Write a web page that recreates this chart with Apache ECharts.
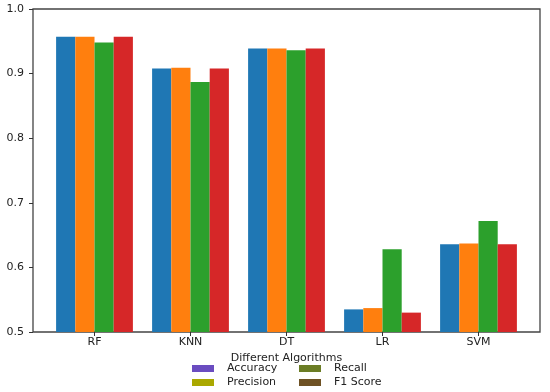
<!DOCTYPE html>
<html><head><meta charset="utf-8">
<script src="https://cdn.jsdelivr.net/npm/echarts@6/dist/echarts.min.js"></script>
<style>html,body{margin:0;padding:0;background:#fff}#c{width:550px;height:392px}</style>
</head><body><div id="c"></div>
<script>
const categories = ['RF', 'KNN', 'DT', 'LR', 'SVM'];
const accuracy  = [0.957, 0.908, 0.939, 0.535, 0.636];
const precision = [0.957, 0.909, 0.939, 0.537, 0.637];
const recall    = [0.948, 0.887, 0.936, 0.628, 0.672];
const f1Score   = [0.957, 0.908, 0.939, 0.530, 0.636];
const yTicks = [0.5, 0.6, 0.7, 0.8, 0.9, 1.0];
const seriesNames = ['Accuracy', 'Precision', 'Recall', 'F1 Score'];
const barColors = ['#1f77b4', '#ff7f0e', '#2ca02c', '#d62728'];
const legendColors = ['#6a4cc0', '#aaa800', '#6b7d25', '#6e5224'];
const values = [accuracy, precision, recall, f1Score];

const font = 'DejaVu Sans';
const fs = 11;
const chart = echarts.init(document.getElementById('c'), null, {renderer: 'canvas'});
const legendPos = [[192, 363], [192, 377], [299, 363], [299, 377]];
const legends = seriesNames.map((n, i) => ({
  orient: 'horizontal', left: legendPos[i][0], top: legendPos[i][1],
  itemWidth: 22, itemHeight: 7, icon: 'rect', padding: 0,
  textStyle: {color: '#222', fontSize: fs, fontFamily: font, padding: [0, 0, 0, 8]},
  data: [{name: n, itemStyle: {color: legendColors[i]}}]
}));
chart.setOption({
  animation: false,
  textStyle: {fontFamily: font},
  grid: [
    {left: 46.5, right: 23.5, top: 9, bottom: 60},
    {left: 33, right: 10, top: 9, bottom: 60, show: true, borderColor: '#444', borderWidth: 1.3, backgroundColor: 'transparent'}
  ],
  xAxis: [
    {type: 'category', gridIndex: 0, data: categories,
     axisLine: {show: false},
     axisTick: {show: true, alignWithLabel: true, length: 4, lineStyle: {color: '#333'}},
     axisLabel: {color: '#222', fontSize: fs, fontFamily: font, margin: 5},
     name: 'Different Algorithms', nameLocation: 'middle', nameGap: 17,
     nameTextStyle: {color: '#222', fontSize: fs, fontFamily: font}},
    {type: 'category', gridIndex: 1, data: categories, show: false}
  ],
  yAxis: [
    {type: 'value', gridIndex: 0, min: 0.5, max: 1.0, interval: 0.1, show: false},
    {type: 'value', gridIndex: 1, min: 0.5, max: 1.0, interval: 0.1,
     axisLine: {show: false},
     axisTick: {show: true, length: 4, lineStyle: {color: '#333'}},
     splitLine: {show: false},
     axisLabel: {color: '#222', fontSize: fs, fontFamily: font, margin: 9,
       formatter: v => yTicks.includes(Math.round(v*10)/10) ? v.toFixed(1) : ''}}
  ],
  legend: legends,
  series: values.map((arr, i) => ({
    type: 'bar', name: seriesNames[i], xAxisIndex: 0, yAxisIndex: 0,
    data: arr, barGap: '0%', barCategoryGap: '20%',
    itemStyle: {color: barColors[i]}
  }))
});
</script></body></html>
